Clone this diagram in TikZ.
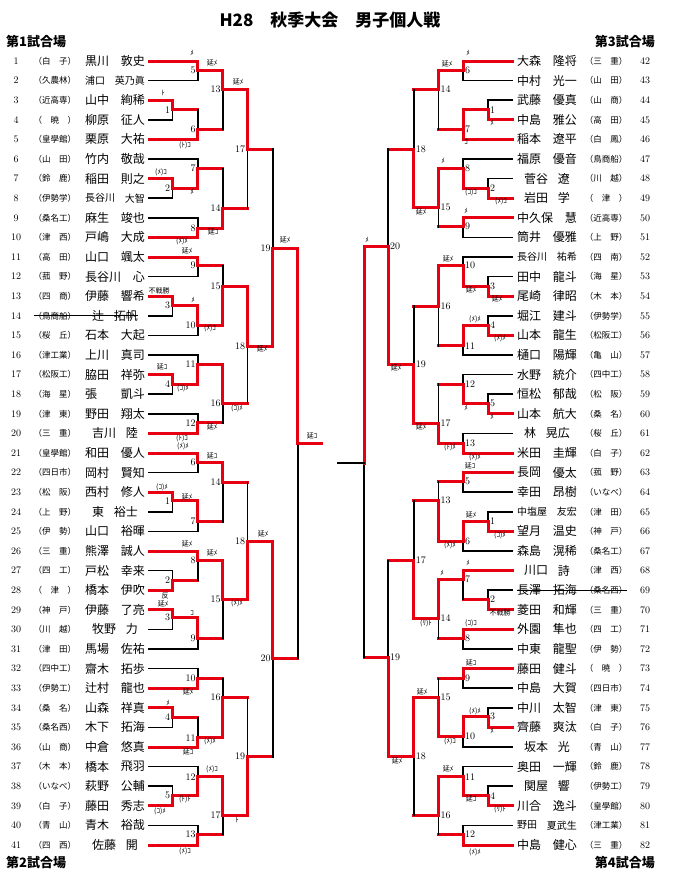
\documentclass[tikz,border=0pt]{standalone}
\usepackage{fontspec}
\newfontfamily\jp{Noto Sans CJK JP}
\usepackage{tikz}
\usetikzlibrary{positioning, calc}
\definecolor{tred}{RGB}{230,0,18}

\newcommand{\bml}[7]{%
  \coordinate (#1) at (#3,#4);
  \draw[#7] (#6) -- (#6 -| #1);
  \draw[lose] (#6 -| #1) -- (#1);
  \draw[win] (#5) -| (#1);
  \node[mno, anchor=east, xshift=-2pt] (#1n) at (#1) {#2};
}
\newcommand{\bmr}[7]{%
  \coordinate (#1) at (#3,#4);
  \draw[#7] (#6) -- (#6 -| #1);
  \draw[lose] (#6 -| #1) -- (#1);
  \draw[win] (#5) -| (#1);
  \node[mno, anchor=west, xshift=2pt] (#1n) at (#1) {#2};
}

\begin{document}
\begin{tikzpicture}[x=1pt, y=-1pt, font=\fontsize{10}{10}\selectfont,
  win/.style={line width=3pt, draw=tred, line cap=rect},
  lose/.style={line width=1.6pt, draw=black, line cap=rect},
  pno/.style={font=\fontsize{10}{10}\selectfont, inner sep=0pt},
  psch/.style={font=\jp\fontsize{8.5}{8.5}\selectfont, inner sep=0pt},
  nm/.style={font=\jp\fontsize{12}{12}\selectfont, inner sep=0pt},
  sm/.style={font=\jp\fontsize{10}{10}\selectfont, inner sep=0pt},
  mno/.style={font=\fontsize{10}{10}\selectfont, inner sep=0pt},
  note/.style={font=\jp\fontsize{7}{7}\selectfont, inner sep=0pt},
  head/.style={font=\jp\bfseries\fontsize{13}{13}\selectfont, inner sep=0pt}]
\useasboundingbox (0,0) rectangle (673,887);

\node[font=\jp\bfseries\fontsize{17}{17}\selectfont] (title) at (330,20) {H28　秋季大会　男子個人戦};
\node[head, anchor=west] (v1) at (6,42) {第1試合場};
\node[head, anchor=west] (v2) at (6,863) {第2試合場};
\node[head, anchor=east] (v3) at (655,42) {第3試合場};
\node[head, anchor=east] (v4) at (655,863) {第4試合場};

% left players
\foreach \i/\sch/\sur/\giv/\ins/\fs in {
 1/白　子/黒川/敦史/0/nm, 2/久農林/浦口/英乃眞/0/sm, 3/近高専/山中/絢稀/0/nm,
 4/　暁　/柳原/征人/0/nm, 5/皇學館/栗原/大祐/0/nm, 6/山　田/竹内/敬哉/0/nm,
 7/鈴　鹿/稲田/則之/0/nm, 8/伊勢学/長谷川/大智/0/sm, 9/桑名工/麻生/竣也/0/nm,
 10/津　西/戸嶋/大成/0/nm, 11/高　田/山口/颯太/0/nm, 12/菰　野/長谷川/心/0/nm,
 13/四　商/伊藤/響希/0/nm, 14/鳥商船/辻/拓帆/7/nm, 15/桜　丘/石本/大起/0/nm,
 16/津工業/上川/真司/0/nm, 17/松阪工/脇田/祥弥/0/nm, 18/海　星/張/凱斗/0/nm,
 19/津　東/野田/翔太/0/nm, 20/三　重/吉川/陸/7/nm, 21/皇學館/和田/優人/0/nm,
 22/四日市/岡村/賢知/0/nm, 23/松　阪/西村/修人/0/nm, 24/上　野/東/裕士/7/nm,
 25/伊　勢/山口/裕暉/0/nm, 26/三　重/熊澤/誠人/0/nm, 27/四　工/戸松/幸来/0/nm,
 28/　津　/橋本/伊吹/0/nm, 29/神　戸/伊藤/了亮/0/nm, 30/川　越/牧野/力/7/nm,
 31/津　田/馬場/佐祐/0/nm, 32/四中工/齋木/拓歩/0/nm, 33/伊勢工/辻村/龍也/0/nm,
 34/桑　名/山森/祥真/0/nm, 35/桑名西/木下/拓海/0/nm, 36/山　商/中倉/悠真/0/nm,
 37/木　本/橋本/飛羽/0/nm, 38/いなべ/萩野/公輔/0/nm, 39/白　子/藤田/秀志/0/nm,
 40/青　山/青木/裕哉/0/nm, 41/四　西/佐藤/開/7/nm}
{
  \pgfmathsetmacro\yy{61+(\i-1)*19.6}
  \node[pno] (n\i) at (16,\yy) {\i};
  \node[psch] (s\i) at (55,\yy) {（\sch）};
  \node[\fs, anchor=west] (f\i) at (85+\ins,\yy) {\sur};
  \node[\fs, anchor=east] (g\i) at (145-\ins,\yy) {\giv};
  \coordinate (p\i) at (149,\yy);
}

% right players
\foreach \i/\sch/\sur/\giv/\ins/\fs in {
 42/三　重/大森/隆将/0/nm, 43/山　田/中村/光一/0/nm, 44/山　商/武藤/優真/0/nm,
 45/高　田/中島/雅公/0/nm, 46/白　鳳/稲本/遼平/0/nm, 47/鳥商船/福原/優音/0/nm,
 48/川　越/菅谷/遼/7/nm, 49/　津　/岩田/学/7/nm, 50/近高専/中久保/慧/0/nm,
 51/上　野/筒井/優雅/0/nm, 52/四　南/長谷川/祐希/0/sm, 53/海　星/田中/龍斗/0/nm,
 54/木　本/尾崎/律昭/0/nm, 55/伊勢学/堀江/建斗/0/nm, 56/松阪工/山本/龍生/0/nm,
 57/亀　山/樋口/陽輝/0/nm, 58/四中工/水野/統介/0/nm, 59/松　阪/恒松/郁哉/0/nm,
 60/桑　名/山本/航大/0/nm, 61/桜　丘/林/晃広/7/nm, 62/白　子/米田/圭輝/0/nm,
 63/菰　野/長岡/優太/0/nm, 64/いなべ/幸田/昂樹/0/nm, 65/津　田/中塩屋/友宏/0/sm,
 66/神　戸/望月/温史/0/nm, 67/桑名工/森島/滉稀/0/nm, 68/津　西/川口/詩/7/nm,
 69/桑名西/長澤/拓海/0/nm, 70/三　重/菱田/和輝/0/nm, 71/四　工/外園/隼也/0/nm,
 72/伊　勢/中東/龍聖/0/nm, 73/　暁　/藤田/健斗/0/nm, 74/四日市/中島/大賀/0/nm,
 75/津　東/中川/太智/0/nm, 76/白　子/齊藤/爽汰/0/nm, 77/青　山/坂本/光/7/nm,
 78/鈴　鹿/奥田/一輝/0/nm, 79/伊勢工/関屋/響/7/nm, 80/皇學館/川合/逸斗/0/nm,
 81/津工業/野田/夏武生/0/sm, 82/三　重/中島/健心/0/nm}
{
  \pgfmathsetmacro\yy{61+(\i-42)*19.6}
  \node[\fs, anchor=west] (f\i) at (517+\ins,\yy) {\sur};
  \node[\fs, anchor=east] (g\i) at (577-\ins,\yy) {\giv};
  \node[psch] (s\i) at (606,\yy) {（\sch）};
  \node[pno] (n\i) at (645,\yy) {\i};
  \coordinate (q\i) at (512,\yy);
}

\draw[line width=0.8pt] (s14.west) -- (g14.east);
\draw[line width=0.8pt] (f69.west) -- (s69.east);

% left bracket
\bml{la5}{5}{197.7}{70}{p1}{p2}{lose}
\bml{la1}{1}{172.3}{109.7}{p3}{p4}{lose}
\bml{la6}{6}{197.7}{129}{p5}{la1}{win}
\bml{la13}{13}{222.7}{89.3}{la5}{la6}{win}
\bml{la2}{2}{172.3}{188.3}{p7}{p8}{lose}
\bml{la7}{7}{197.7}{168.3}{la2}{p6}{lose}
\bml{la8}{8}{197.7}{228.3}{p10}{p9}{lose}
\bml{la14}{14}{222.7}{208.3}{la8}{la7}{win}
\bml{la17}{17}{247.3}{149}{la13}{la14}{win}
\bml{la9}{9}{197.7}{265.7}{p11}{p12}{lose}
\bml{la3}{3}{172.3}{305.7}{p13}{p14}{lose}
\bml{la10}{10}{197.7}{325.3}{la3}{p15}{lose}
\bml{la15}{15}{222.7}{286}{la10}{la9}{win}
\bml{la4}{4}{172.3}{384}{p17}{p18}{lose}
\bml{la11}{11}{197.7}{364.3}{la4}{p16}{lose}
\bml{la12}{12}{197.7}{422.7}{p20}{p19}{lose}
\bml{la16}{16}{222.7}{403.3}{la11}{la12}{win}
\bml{la18}{18}{247.3}{346}{la15}{la16}{win}
\bml{la19}{19}{272.7}{248.3}{la18}{la17}{win}
\bml{lb6}{6}{197.7}{462.7}{p21}{p22}{lose}
\bml{lb1}{1}{172.3}{500.7}{p23}{p24}{lose}
\bml{lb7}{7}{197.7}{521.7}{lb1}{p25}{lose}
\bml{lb14}{14}{222.7}{482.3}{lb6}{lb7}{win}
\bml{lb2}{2}{172.3}{580}{p28}{p27}{lose}
\bml{lb8}{8}{197.7}{560}{p26}{lb2}{win}
\bml{lb3}{3}{172.3}{617.7}{p29}{p30}{lose}
\bml{lb9}{9}{197.7}{638.3}{lb3}{p31}{lose}
\bml{lb15}{15}{222.7}{599.3}{lb8}{lb9}{win}
\bml{lb18}{18}{247.3}{541.7}{lb15}{lb14}{win}
\bml{lb10}{10}{197.7}{678.3}{p33}{p32}{lose}
\bml{lb4}{4}{172.3}{717.3}{p34}{p35}{lose}
\bml{lb11}{11}{197.7}{737.7}{p36}{lb4}{win}
\bml{lb16}{16}{222.7}{697.3}{lb11}{lb10}{win}
\bml{lb5}{5}{172.3}{795.7}{p39}{p38}{lose}
\bml{lb12}{12}{197.7}{776.7}{lb5}{p37}{lose}
\bml{lb13}{13}{197.7}{834.3}{p41}{p40}{lose}
\bml{lb17}{17}{222.7}{815}{lb12}{lb13}{win}
\bml{lb19}{19}{247.3}{756.7}{lb17}{lb16}{win}
\bml{lb20}{20}{272.7}{658}{lb18}{lb19}{win}
\bml{lfin}{}{297.7}{443.3}{la19}{lb20}{win}
\coordinate (lend) at (321.7,443.3);
\draw[win] (lfin) -- (lend);

% right bracket
\bmr{ra6}{6}{463}{70}{q42}{q43}{lose}
\bmr{ra1}{1}{488}{109.7}{q45}{q44}{lose}
\bmr{ra7}{7}{463}{129}{ra1}{q46}{win}
\draw[win] (q46) -| (ra7);
\bmr{ra14}{14}{438.3}{89.3}{ra6}{ra7}{win}
\bmr{ra2}{2}{488}{188.3}{q49}{q48}{lose}
\bmr{ra8}{8}{463}{168.3}{ra2}{q47}{lose}
\bmr{ra9}{9}{463}{226.7}{q50}{q51}{lose}
\bmr{ra15}{15}{438.3}{207}{ra8}{ra9}{win}
\bmr{ra18}{18}{413.7}{149}{ra15}{ra14}{win}
\bmr{ra3}{3}{488}{286}{q54}{q53}{lose}
\bmr{ra10}{10}{463}{265.7}{ra3}{q52}{lose}
\bmr{ra4}{4}{488}{325}{q56}{q55}{lose}
\bmr{ra11}{11}{463}{345.7}{ra4}{q57}{lose}
\bmr{ra16}{16}{438.3}{306}{ra10}{ra11}{win}
\bmr{ra5}{5}{488}{403.3}{q60}{q59}{lose}
\bmr{ra12}{12}{463}{384}{ra5}{q58}{lose}
\bmr{ra13}{13}{463}{443.3}{q62}{q61}{lose}
\bmr{ra17}{17}{438.3}{423}{ra13}{ra12}{win}
\bmr{ra19}{19}{413.7}{364}{ra17}{ra16}{win}
\bmr{ra20}{20}{388}{246.7}{ra19}{ra18}{win}
\bmr{rb5}{5}{463}{481.7}{q63}{q64}{lose}
\bmr{rb1}{1}{488}{521}{q66}{q65}{lose}
\bmr{rb6}{6}{463}{541.7}{rb1}{q67}{lose}
\bmr{rb13}{13}{438.3}{500.7}{rb6}{rb5}{win}
\bmr{rb2}{2}{488}{599}{q70}{q69}{lose}
\bmr{rb7}{7}{463}{579.3}{q68}{rb2}{win}
\bmr{rb8}{8}{463}{638.3}{q71}{q72}{lose}
\bmr{rb14}{14}{438.3}{618.3}{rb7}{rb8}{win}
\bmr{rb17}{17}{413.7}{560.7}{rb14}{rb13}{win}
\bmr{rb9}{9}{463}{678.3}{q73}{q74}{lose}
\bmr{rb3}{3}{488}{716.7}{q76}{q75}{lose}
\bmr{rb10}{10}{463}{736}{rb3}{q77}{lose}
\bmr{rb15}{15}{438.3}{697.3}{rb10}{rb9}{win}
\bmr{rb4}{4}{488}{795.7}{q80}{q79}{lose}
\bmr{rb11}{11}{463}{776.7}{rb4}{q78}{lose}
\bmr{rb12}{12}{463}{834.3}{q82}{q81}{lose}
\bmr{rb16}{16}{438.3}{815}{rb11}{rb12}{win}
\bmr{rb18}{18}{413.7}{756.7}{rb15}{rb16}{win}
\bmr{rb19}{19}{388}{657.3}{rb18}{rb17}{win}
\bmr{rfin}{}{364}{463}{ra20}{rb19}{win}
\coordinate (rend) at (338,463);
\draw[lose] (rfin) -- (rend);

% score marks
\foreach \x/\y/\t [count=\k] in {
 192/53/ﾒ, 212/63/延ﾒ, 238/82/延ﾒ, 163/93/ﾄ, 185/145/(ﾄ)ｺ, 161/172/(ﾒ)ｺ,
 192/192/ﾒ, 213/232/延ｺ, 182/241/(ﾒ)ﾒ, 285/240/延ﾒ, 187/251/延ﾒ, 159/291/不戦勝,
 193/300/ﾒ, 210/328/(ﾒ)ｺ, 262/349/延ﾒ, 162/367/延ｺ, 183/388/(ｺ)ﾒ, 237/408/(ｺ)ﾒ,
 212/427/延ﾒ, 312/436/延ｺ, 182/438/(ﾄ)ｺ, 183/446/(ﾒ)ﾒ, 212/456/延ｺ, 162/487/(ｺ)ﾒ,
 187/497/延ﾒ, 263/534/延ﾒ, 187/544/延ﾒ, 212/553/延ﾒ, 165/596/反, 163/604/延ﾒ,
 192/613/ｺ, 237/603/(ﾒ)ﾒ, 188/692/延ﾒ, 168/703/ﾒ, 210/741/(ﾒ)ﾒ, 188/752/延ｺ,
 212/769/(ﾒ)ｺ, 185/799/(ﾄ)ﾄ, 160/811/(ｺ)ﾒ, 237/820/ﾄ, 185/851/(ﾒ)ｺ,
 468/53/ﾒ, 447/64/延ﾒ, 492/123/ﾒ, 466/142/ｺ, 443/161/ﾒ, 471/192/(ｺ)ｺ,
 501/201/(ﾒ)ｺ, 421/212/延ﾒ, 466/211/ﾒ, 367/240/ﾒ, 448/259/延ﾒ, 471/290/延ﾒ,
 497/299/延ﾒ, 475/319/(ﾒ)ﾒ, 500/338/(ﾒ)ﾒ, 396/368/延ﾒ, 466/408/ﾒ, 492/417/ﾒ,
 421/427/延ﾒ, 450/447/(ﾄ)ﾒ, 475/457/(ﾒ)ﾒ, 470/466/延ｺ, 471/515/延ﾒ, 500/535/(ｺ)ﾒ,
 450/545/(ﾒ)ﾒ, 442/573/ﾒ, 468/563/ﾒ, 500/613/不戦勝, 426/623/(ﾘ)ﾄ, 471/623/(ｺ)ｺ,
 471/663/延ｺ, 422/692/延ﾒ, 475/711/(ﾒ)ﾒ, 492/731/ﾒ, 450/741/(ﾒ)ｺ, 397/761/延ﾒ,
 448/769/延ﾒ, 471/799/延ｺ, 500/809/(ﾘ)ﾄ, 475/852/(ﾒ)ﾒ}
  \node[note] (a\k) at (\x,\y) {\t};
\end{tikzpicture}
\end{document}
